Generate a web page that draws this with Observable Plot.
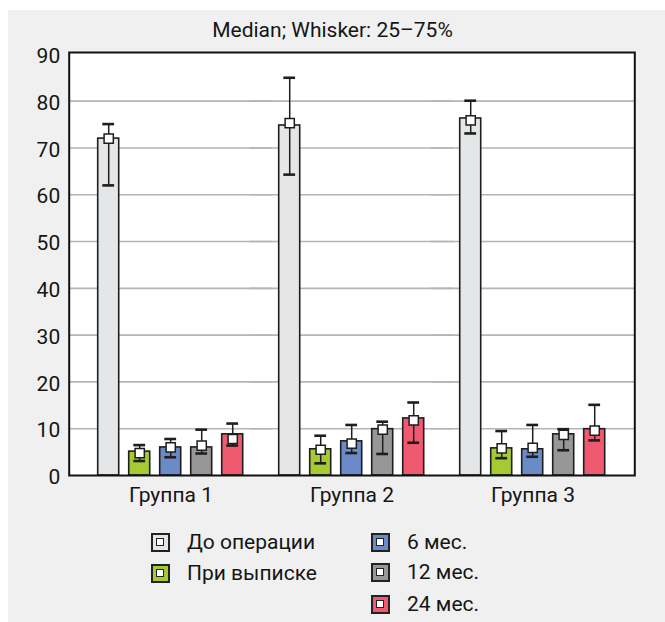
<!DOCTYPE html>
<html>
<head>
<meta charset="utf-8">
<script src="https://cdn.jsdelivr.net/npm/d3@7"></script>
<script src="https://cdn.jsdelivr.net/npm/@observablehq/plot@0.6"></script>
<style>
  body { margin: 0; background: #fff; font-family: Roboto, "Liberation Sans", sans-serif; color: #151515; }
  #panel { position: absolute; left: 8px; top: 10px; width: 657px; height: 612px; background: #f0f0f0; }
  #title { position: absolute; left: 0; width: 665px; top: 16px; height: 28px; line-height: 28px; text-align: center; font-size: 21px; }
  #chart { position: absolute; left: 0; top: 42px; }
  .lg { position: absolute; display: flex; align-items: center; font-size: 21px; height: 30px; }
  .sw { width: 15px; height: 15px; border: 2px solid #222; position: relative; margin-right: 17px; }
  .sw::after { content: ""; position: absolute; left: 3px; top: 3px; width: 6px; height: 6px; background: #fff; border: 1.5px solid #222; }
</style>
</head>
<body>
<div id="panel"></div>
<div id="title">Median; Whisker: 25–75%</div>
<div id="chart"></div>
<div id="legend"></div>
<script>
const groups = ["Группа 1", "Группа 2", "Группа 3"];
const series = ["До операции", "При выписке", "6 мес.", "12 мес.", "24 мес."];
const colors = ["#e5e6e8", "#a5ca34", "#6a8bc7", "#979797", "#ef5a71"];
// bar heights, medians, quartiles per group (rows) and series (columns)
const barValue = [[72.0, 5.1, 6.0, 6.0, 8.8], [74.8, 5.6, 7.3, 9.9, 12.2], [76.3, 5.8, 5.6, 8.8, 9.9]];
const median   = [[72.0, 4.8, 6.0, 6.4, 7.8], [75.3, 5.5, 6.8, 9.8, 11.8], [75.9, 5.8, 5.9, 8.7, 9.6]];
const q1       = [[62.0, 3.1, 3.9, 4.7, 6.4], [64.3, 2.6, 4.8, 4.6, 7.0], [73.1, 3.7, 4.0, 5.4, 7.5]];
const q3       = [[75.1, 6.5, 7.8, 9.8, 11.1], [85.0, 8.5, 10.8, 11.5, 15.6], [80.1, 9.5, 10.8, 9.9, 15.1]];
const yTicks = [0, 10, 20, 30, 40, 50, 60, 70, 80, 90];
const gridTicks = [10, 20, 30, 40, 50, 60, 70, 80];

const data = [];
groups.forEach((g, i) => series.forEach((s, j) => data.push({
  group: g, series: s, bar: barValue[i][j], median: median[i][j], q1: q1[i][j], q3: q3[i][j]
})));

// frame spans x 68..634; facets are inset by one group gap on each side
const W = 665, frameL = 68, frameR = 31;
const fxPad = 0.123;
const fxStep = (W - frameL - frameR) / (groups.length - fxPad + 2 * fxPad);
const gap = fxPad * fxStep;

const ink = "#1e1e1e";
const chart = Plot.plot({
  width: W,
  height: 473,
  marginLeft: frameL + gap,
  marginRight: frameR + gap,
  marginTop: 10,
  marginBottom: 40,
  style: { background: "transparent", fontFamily: "Roboto, 'Liberation Sans', sans-serif", fontSize: "21px", color: "#151515" },
  fx: { domain: groups, padding: fxPad, label: null, axis: null },
  x: { domain: series, paddingInner: 0.31, paddingOuter: 0.155, axis: null },
  y: { domain: [0, 90.4], axis: null },
  color: { domain: series, range: colors },
  marks: [
    Plot.frame({ facet: "super", fill: "white", insetLeft: -gap, insetRight: -gap }),
    Plot.ruleY(gridTicks, { stroke: "#b5b5b5", strokeWidth: 1.6, insetLeft: -gap, insetRight: -gap }),
    Plot.axisY({ ticks: yTicks, tickSize: 0, tickPadding: 9 + gap, dy: 2, label: null, fontSize: 21, tickFormat: d => String(d) }),
    Plot.axisFx({ anchor: "bottom", tickSize: 0, tickPadding: 12, label: null, fontSize: 21 }),
    Plot.barY(data, { fx: "group", x: "series", y: "bar", fill: "series", stroke: ink, strokeWidth: 1.6 }),
    Plot.ruleX(data, { fx: "group", x: "series", y1: "q1", y2: "q3", stroke: ink, strokeWidth: 1.5 }),
    Plot.tickY(data, { fx: "group", x: "series", y: "q1", stroke: ink, strokeWidth: 2.6, insetLeft: 4.6, insetRight: 4.6 }),
    Plot.tickY(data, { fx: "group", x: "series", y: "q3", stroke: ink, strokeWidth: 2.6, insetLeft: 4.6, insetRight: 4.6 }),
    Plot.dot(data, { fx: "group", x: "series", y: "median", symbol: "square", r: 5.2, fill: "white", stroke: ink, strokeWidth: 1.5 }),
    Plot.frame({ facet: "super", stroke: "#111", strokeWidth: 2, insetLeft: -gap, insetRight: -gap })
  ]
});
document.getElementById("chart").appendChild(chart);

// legend
const legendPos = [
  { left: 151, top: 542 }, { left: 151, top: 573 },
  { left: 371, top: 542 }, { left: 371, top: 572 }, { left: 371, top: 604 }
];
const legend = document.getElementById("legend");
series.forEach((s, i) => {
  const item = document.createElement("div");
  item.className = "lg";
  item.style.left = legendPos[i].left + "px";
  item.style.top = (legendPos[i].top - 15) + "px";
  const sw = document.createElement("div");
  sw.className = "sw";
  sw.style.background = colors[i];
  const t = document.createElement("span");
  t.textContent = s;
  item.appendChild(sw);
  item.appendChild(t);
  legend.appendChild(item);
});
</script>
</body>
</html>
